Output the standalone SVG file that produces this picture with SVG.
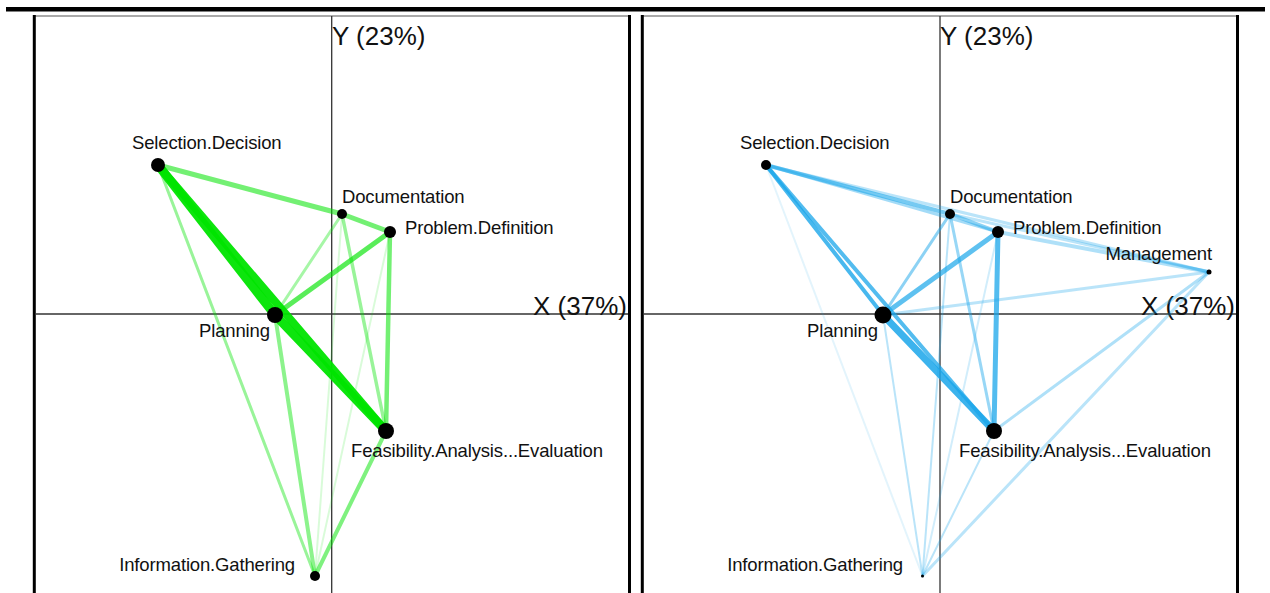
<svg xmlns="http://www.w3.org/2000/svg" width="1270" height="593" viewBox="0 0 1270 593">
<style>
.lbl{font-family:"Liberation Sans",Arial,Helvetica,sans-serif;font-size:18.5px;fill:#111;letter-spacing:-0.15px}
.ax{font-family:"Liberation Sans",Arial,Helvetica,sans-serif;font-size:26px;fill:#111}
.axis{stroke:#333;stroke-width:1.3;fill:none}
.frame{stroke:#000;stroke-width:3;fill:none}
.ftop{stroke:#555;stroke-width:1.2}
.g line{stroke:#00e400;stroke-linecap:round}
.b line{stroke:#1aa6ea;stroke-linecap:round}
.n{fill:#000}
</style>
<rect width="1270" height="593" fill="#fff"/>
<rect x="6" y="7" width="1259" height="4.5" fill="#000"/>

<!-- left panel frame and axes -->
<g id="left-frame">
<line class="ftop" x1="34" y1="16" x2="629.5" y2="16"/>
<line class="frame" x1="34.3" y1="15" x2="34.3" y2="593"/>
<line class="frame" x1="629.5" y1="15" x2="629.5" y2="593"/>
<line class="axis" x1="331.7" y1="16" x2="331.7" y2="593"/>
<line class="axis" x1="35" y1="314" x2="628" y2="314"/>
<text class="ax" x="332" y="45">Y (23%)</text>
<text class="ax" x="533" y="315">X (37%)</text>
</g>

<!-- right panel frame and axes -->
<g id="right-frame">
<line class="ftop" x1="642" y1="16" x2="1237.5" y2="16"/>
<line class="frame" x1="642.3" y1="15" x2="642.3" y2="593"/>
<line class="frame" x1="1237.5" y1="15" x2="1237.5" y2="593"/>
<line class="axis" x1="940" y1="16" x2="940" y2="593"/>
<line class="axis" x1="643" y1="314" x2="1236" y2="314"/>
<text class="ax" x="940" y="45">Y (23%)</text>
<text class="ax" x="1141" y="315">X (37%)</text>
</g>

<!-- left connectors (green) -->
<g id="connectors-left" class="g">
<line x1="158" y1="165" x2="342" y2="214" stroke-width="5" stroke-opacity="0.55"/>
<line x1="342" y1="214" x2="390" y2="232" stroke-width="5" stroke-opacity="0.55"/>
<line x1="275" y1="315" x2="390" y2="232" stroke-width="5" stroke-opacity="0.65"/>
<line x1="275" y1="315" x2="342" y2="214" stroke-width="3" stroke-opacity="0.35"/>
<line x1="158" y1="165" x2="315" y2="576" stroke-width="3" stroke-opacity="0.4"/>
<line x1="275" y1="315" x2="315" y2="576" stroke-width="4" stroke-opacity="0.45"/>
<line x1="342" y1="214" x2="386" y2="431" stroke-width="3.5" stroke-opacity="0.4"/>
<line x1="342" y1="214" x2="315" y2="576" stroke-width="2" stroke-opacity="0.15"/>
<line x1="390" y1="232" x2="315" y2="576" stroke-width="2" stroke-opacity="0.15"/>
<line x1="390" y1="232" x2="386" y2="431" stroke-width="4.5" stroke-opacity="0.55"/>
<line x1="386" y1="431" x2="315" y2="576" stroke-width="4" stroke-opacity="0.5"/>
<line x1="158" y1="165" x2="386" y2="431" stroke-width="8" stroke-opacity="0.95"/>
<line x1="158" y1="165" x2="275" y2="315" stroke-width="9" stroke-opacity="0.95"/>
<line x1="275" y1="315" x2="386" y2="431" stroke-width="9" stroke-opacity="0.95"/>
</g>

<!-- right connectors (blue) -->
<g id="connectors-right" class="b">
<line x1="766" y1="165" x2="922.5" y2="576" stroke-width="2" stroke-opacity="0.12"/>
<line x1="883" y1="315" x2="922.5" y2="576" stroke-width="2" stroke-opacity="0.3"/>
<line x1="950" y1="214" x2="922.5" y2="576" stroke-width="2" stroke-opacity="0.3"/>
<line x1="998" y1="232" x2="922.5" y2="576" stroke-width="2" stroke-opacity="0.2"/>
<line x1="994" y1="431" x2="922.5" y2="576" stroke-width="2" stroke-opacity="0.3"/>
<line x1="1209" y1="272" x2="922.5" y2="576" stroke-width="3" stroke-opacity="0.3"/>
<line x1="1209" y1="272" x2="994" y2="431" stroke-width="3" stroke-opacity="0.35"/>
<line x1="883" y1="315" x2="1209" y2="272" stroke-width="3" stroke-opacity="0.3"/>
<line x1="766" y1="165" x2="1209" y2="272" stroke-width="3" stroke-opacity="0.3"/>
<line x1="950" y1="214" x2="1209" y2="272" stroke-width="3" stroke-opacity="0.3"/>
<line x1="998" y1="232" x2="1209" y2="272" stroke-width="4" stroke-opacity="0.35"/>
<line x1="766" y1="165" x2="998" y2="232" stroke-width="3" stroke-opacity="0.4"/>
<line x1="766" y1="165" x2="950" y2="214" stroke-width="4" stroke-opacity="0.6"/>
<line x1="950" y1="214" x2="998" y2="232" stroke-width="4" stroke-opacity="0.5"/>
<line x1="883" y1="315" x2="950" y2="214" stroke-width="3" stroke-opacity="0.5"/>
<line x1="950" y1="214" x2="994" y2="431" stroke-width="3" stroke-opacity="0.45"/>
<line x1="883" y1="315" x2="998" y2="232" stroke-width="5" stroke-opacity="0.7"/>
<line x1="998" y1="232" x2="994" y2="431" stroke-width="5" stroke-opacity="0.75"/>
<line x1="766" y1="165" x2="994" y2="431" stroke-width="4" stroke-opacity="0.75"/>
<line x1="766" y1="165" x2="883" y2="315" stroke-width="4" stroke-opacity="0.8"/>
<line x1="883" y1="315" x2="994" y2="431" stroke-width="7" stroke-opacity="0.85"/>
</g>

<!-- left nodes -->
<g id="L-Selection.Decision"><circle class="n" cx="158" cy="165" r="7"/><text class="lbl" x="132" y="149">Selection.Decision</text></g>
<g id="L-Documentation"><circle class="n" cx="342" cy="214" r="5"/><text class="lbl" x="342" y="203">Documentation</text></g>
<g id="L-Problem.Definition"><circle class="n" cx="390" cy="232" r="6"/><text class="lbl" x="405" y="234">Problem.Definition</text></g>
<g id="L-Planning"><circle class="n" cx="275" cy="315" r="8"/><text class="lbl" x="199" y="337">Planning</text></g>
<g id="L-Feasibility"><circle class="n" cx="386" cy="431" r="8"/><text class="lbl" x="351" y="457">Feasibility.Analysis...Evaluation</text></g>
<g id="L-Information.Gathering"><circle class="n" cx="315" cy="576" r="5"/><text class="lbl" x="295" y="571" text-anchor="end">Information.Gathering</text></g>

<!-- right nodes -->
<g id="R-Selection.Decision"><circle class="n" cx="766" cy="165" r="5"/><text class="lbl" x="740" y="149">Selection.Decision</text></g>
<g id="R-Documentation"><circle class="n" cx="950" cy="214" r="5"/><text class="lbl" x="950" y="203">Documentation</text></g>
<g id="R-Problem.Definition"><circle class="n" cx="998" cy="232" r="6"/><text class="lbl" x="1013" y="234">Problem.Definition</text></g>
<g id="R-Management"><circle class="n" cx="1209" cy="272" r="2.5"/><text class="lbl" x="1212" y="260" text-anchor="end">Management</text></g>
<g id="R-Planning"><circle class="n" cx="883" cy="315" r="8.5"/><text class="lbl" x="807" y="337">Planning</text></g>
<g id="R-Feasibility"><circle class="n" cx="994" cy="431" r="8"/><text class="lbl" x="959" y="457">Feasibility.Analysis...Evaluation</text></g>
<g id="R-Information.Gathering"><circle class="n" cx="922.5" cy="576" r="1.5"/><text class="lbl" x="903" y="571" text-anchor="end">Information.Gathering</text></g>
</svg>
